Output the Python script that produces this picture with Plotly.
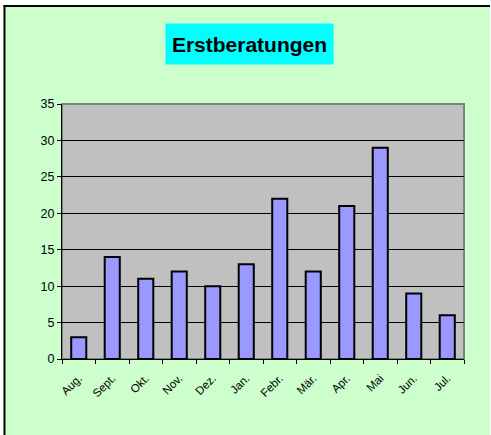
import plotly.graph_objects as go

months = ["Aug.", "Sept.", "Okt.", "Nov.", "Dez.", "Jan.", "Febr.", "Mär.", "Apr.", "Mai", "Jun.", "Jul."]
values = [3, 14, 11, 12, 10, 13, 22, 12, 21, 29, 9, 6]
y_ticks = [0, 5, 10, 15, 20, 25, 30, 35]
title_text = "Erstberatungen"

W, H = 491, 435
L, R, T, B = 62, 27, 104, 76
pw, ph = W - L - R, H - T - B

def px(x):
    return (x - L) / pw

def py(y):
    return (H - B - y) / ph

fig = go.Figure()
fig.add_trace(go.Bar(
    x=months, y=values,
    marker=dict(color="#9999FF", line=dict(color="black", width=2)),
))

shapes = [
    # white strips at top, left and right
    dict(type="rect", xref="paper", yref="paper", x0=px(-5), x1=px(W + 5), y0=py(5), y1=py(-5),
         fillcolor="white", line=dict(width=0), layer="below"),
    dict(type="rect", xref="paper", yref="paper", x0=px(-5), x1=px(3.5), y0=py(H + 5), y1=py(-5),
         fillcolor="white", line=dict(width=0), layer="below"),
    dict(type="rect", xref="paper", yref="paper", x0=px(490), x1=px(W + 5), y0=py(H + 5), y1=py(-5),
         fillcolor="white", line=dict(width=0), layer="below"),
    # black border top and left
    dict(type="line", xref="paper", yref="paper", x0=px(3.5), x1=px(490), y0=py(6), y1=py(6),
         line=dict(color="black", width=2)),
    dict(type="line", xref="paper", yref="paper", x0=px(4.5), x1=px(4.5), y0=py(5), y1=py(H + 5),
         line=dict(color="black", width=2)),
    # plot area frame (gray)
    dict(type="rect", xref="paper", yref="paper", x0=0, x1=1, y0=0, y1=1,
         line=dict(color="#808080", width=2), layer="below"),
]

fig.update_layout(
    width=W, height=H,
    margin=dict(l=L, r=R, t=T, b=B),
    paper_bgcolor="#CCFFCC",
    plot_bgcolor="#C0C0C0",
    showlegend=False,
    bargap=0.55,
    font=dict(family="Arial, Liberation Sans, sans-serif", color="black"),
    shapes=shapes,
    annotations=[dict(
        text="<b>" + title_text + "</b>", xref="paper", yref="paper",
        x=px(249.5), y=py(44), xanchor="center", yanchor="middle",
        showarrow=False, bgcolor="#00FFFF", width=165, height=38,
        font=dict(size=21, color="black", family="Arial, Liberation Sans, sans-serif"),
    )],
    xaxis=dict(
        type="category", tickangle=-45, ticks="outside", tickson="boundaries",
        ticklen=4, tickcolor="black", showline=True, linecolor="black", linewidth=1,
        showgrid=False, tickfont=dict(size=11.5), zeroline=False, ticklabelstandoff=7,
    ),
    yaxis=dict(
        range=[0, 35], tickvals=y_ticks, ticks="outside", ticklen=4, tickcolor="black",
        showline=True, linecolor="black", linewidth=1, showgrid=True, gridcolor="black",
        gridwidth=1, tickfont=dict(size=12.5), zeroline=False,
    ),
)

fig.write_html("out.html", config={"displayModeBar": False},
               post_script="document.body.style.margin='0';")
